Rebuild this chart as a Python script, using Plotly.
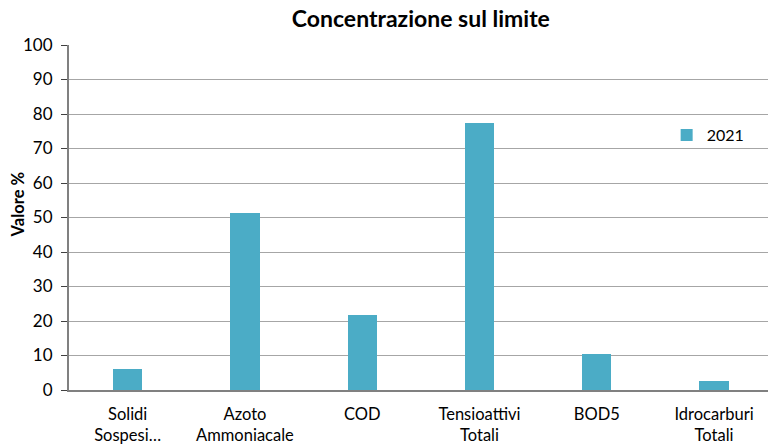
import plotly.graph_objects as go

categories = ["Solidi<br>Sospesi…", "Azoto<br>Ammoniacale", "COD",
              "Tensioattivi<br>Totali", "BOD5", "Idrocarburi<br>Totali"]
values_2021 = [6.0, 51.3, 21.7, 77.4, 10.4, 2.6]
y_ticks = [0, 10, 20, 30, 40, 50, 60, 70, 80, 90, 100]

FONT = "Lato, 'Open Sans', sans-serif"

fig = go.Figure()
fig.add_trace(go.Bar(
    x=list(range(len(categories))),
    y=values_2021,
    name="2021",
    width=0.25,
    marker=dict(color="#4BACC6", line=dict(width=0)),
))

fig.update_layout(
    width=768, height=448,
    margin=dict(l=69, r=0, t=45, b=58),
    paper_bgcolor="white", plot_bgcolor="white",
    font=dict(family=FONT, size=16, color="#000000"),
    title=dict(text="<b>Concentrazione sul limite</b>", x=0.548, xanchor="center",
               y=0.958, yanchor="middle", font=dict(size=23, family=FONT)),
    showlegend=True,
    legend=dict(x=0.855, y=0.739, xanchor="left", yanchor="middle",
                font=dict(size=16), bgcolor="rgba(0,0,0,0)",
                itemwidth=30),
    bargap=0,
)

# y-axis title placed as a rotated annotation beside the tick labels
fig.add_annotation(
    text="<b>Valore %</b>", textangle=-90,
    xref="paper", yref="paper", x=-51 / 699, y=0.535,
    xanchor="center", yanchor="middle", showarrow=False,
    font=dict(size=16.5, family=FONT),
)

fig.update_xaxes(
    range=[-0.5, 5.46],
    tickmode="array", tickvals=list(range(len(categories))), ticktext=categories,
    showline=True, linecolor="#808080", linewidth=2,
    showgrid=False, ticks="", zeroline=False,
    tickfont=dict(size=16.5), ticklabelstandoff=8,
)
fig.update_yaxes(
    range=[0, 100], tickvals=y_ticks,
    showline=True, linecolor="#808080", linewidth=2,
    ticks="outside", ticklen=6, tickcolor="#404040",
    showgrid=True, gridcolor="#A6A6A6", gridwidth=1,
    zeroline=False,
    tickfont=dict(size=17), ticklabelstandoff=5,
)

fig.write_html("out.html")
